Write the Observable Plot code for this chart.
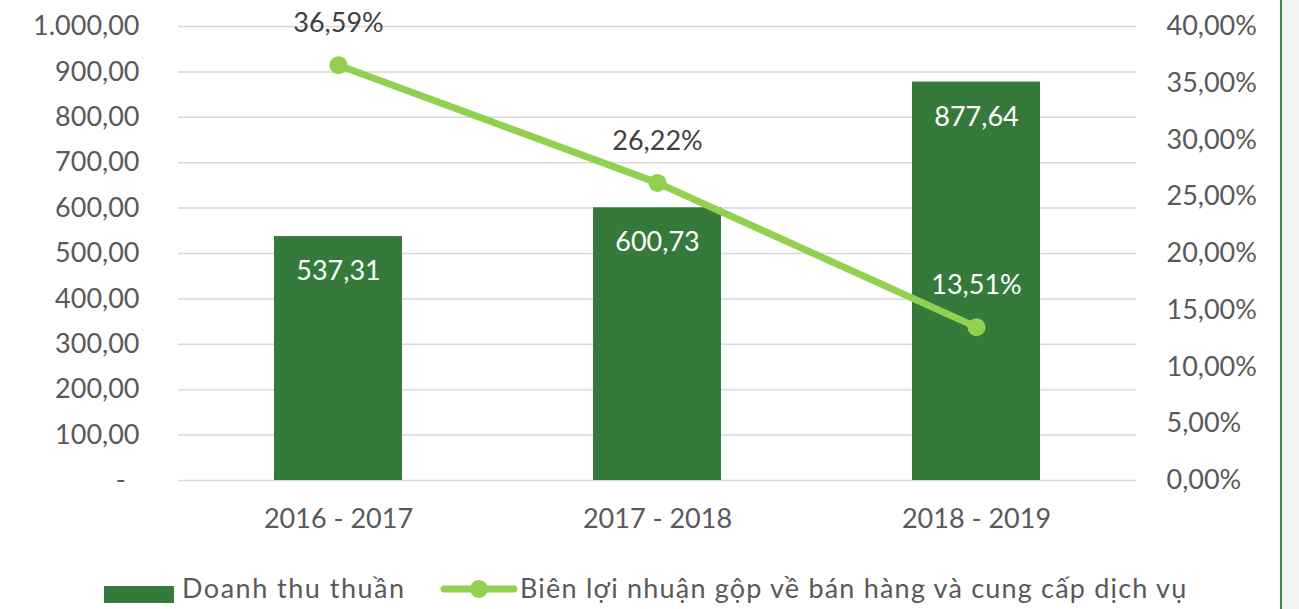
<!DOCTYPE html>
<html>
<head>
<meta charset="utf-8">
<script src="https://cdn.jsdelivr.net/npm/d3@7"></script>
<script src="https://cdn.jsdelivr.net/npm/@observablehq/plot@0.6"></script>
<style>
  html, body { margin: 0; padding: 0; background: #fff; width: 1299px; height: 609px; overflow: hidden; position: relative; }
  body { font-family: Lato, "Open Sans", sans-serif; }
  #chart { position: absolute; left: 0; top: 0; }
  .legend { position: absolute; left: 0; top: 565px; width: 1280px; height: 44px; color: #595959; font-size: 27px; }
  .lg { position: absolute; top: 0; height: 44px; display: flex; align-items: center; white-space: nowrap; }
  .deco { position: absolute; left: 1280px; top: 0; width: 19px; height: 609px; background: #f3f3f3; border-left: 2px solid #3d8b40; box-sizing: border-box; }
</style>
</head>
<body>
<div id="chart"></div>
<div class="legend" id="legend"></div>
<div class="deco"></div>
<script>
const periods = ["2016 - 2017", "2017 - 2018", "2018 - 2019"];
const revenue = [537.31, 600.73, 877.64];
const margin = [36.59, 26.22, 13.51];
const leftTicks = [0, 100, 200, 300, 400, 500, 600, 700, 800, 900, 1000];
const rightTicks = [0, 5, 10, 15, 20, 25, 30, 35, 40];
const seriesNames = ["Doanh thu thuần", "Biên lợi nhuận gộp về bán hàng và cung cấp dịch vụ"];

const barColor = "#367a3b";
const lineColor = "#92d050";
const textColor = "#595959";

const vn = d3.formatLocale({decimal: ",", thousands: ".", grouping: [3], currency: ["", ""]});
const fmtNum = vn.format(",.2f");
const fmtPct = v => v.toFixed(2).replace(".", ",") + "%";
const scaleK = 1000 / 40; // percent -> left axis units

const bars = periods.map((p, i) => ({period: p, value: revenue[i]}));
const pts = periods.map((p, i) => ({period: p, pct: margin[i], y: margin[i] * scaleK}));

const chart = Plot.plot({
  width: 1280,
  height: 565,
  marginLeft: 178,
  marginRight: 144,
  marginTop: 26,
  marginBottom: 85,
  style: {fontFamily: "Lato, 'Open Sans', sans-serif", fontSize: "27px", color: textColor, background: "transparent"},
  x: {type: "band", domain: periods, paddingInner: 0.6, paddingOuter: 0.3, label: null},
  y: {domain: [0, 1000], label: null},
  marks: [
    Plot.gridY(leftTicks, {stroke: "#d9d9d9", strokeOpacity: 1, strokeWidth: 1.5}),
    Plot.axisY(leftTicks, {anchor: "left", tickSize: 0, tickPadding: 39, label: null,
      tickFormat: d => d === 0 ? "-\u00A0\u00A0" : fmtNum(d), fill: textColor}),
    Plot.axisY(rightTicks.map(d => d * scaleK), {anchor: "right", tickSize: 0, tickPadding: 30, label: null,
      textAnchor: "start", tickFormat: d => fmtPct(d / scaleK), fill: textColor}),
    Plot.axisX({tickSize: 0, tickPadding: 28, label: null, fill: textColor}),
    Plot.barY(bars, {x: "period", y: "value", fill: barColor}),
    Plot.text(bars, {x: "period", y: "value", text: d => fmtNum(d.value), fill: "#ffffff", dy: 35, fontSize: 27}),
    Plot.line(pts, {x: "period", y: "y", stroke: lineColor, strokeWidth: 7, strokeLinecap: "round"}),
    Plot.dot(pts, {x: "period", y: "y", r: 9, fill: lineColor, stroke: "none"}),
    Plot.text(pts, {x: "period", y: "y", text: d => fmtPct(d.pct), dy: -42, fontSize: 27,
      fill: (d, i) => i === 2 ? "#ffffff" : "#404040"})
  ]
});
document.getElementById("chart").appendChild(chart);

const legend = document.getElementById("legend");
legend.innerHTML = `
  <div class="lg" style="left:104px">
    <div style="width:70px;height:17px;background:${barColor};margin-top:14px"></div>
  </div>
  <div class="lg" style="left:182px;letter-spacing:1.5px">${seriesNames[0]}</div>
  <div class="lg" style="left:440px">
    <svg width="78" height="44"><line x1="4" y1="24" x2="74" y2="24" stroke="${lineColor}" stroke-width="7" stroke-linecap="round"/><circle cx="39" cy="24" r="9" fill="${lineColor}"/></svg>
  </div>
  <div class="lg" style="left:520px;letter-spacing:1.2px">${seriesNames[1]}</div>`;
</script>
</body>
</html>
